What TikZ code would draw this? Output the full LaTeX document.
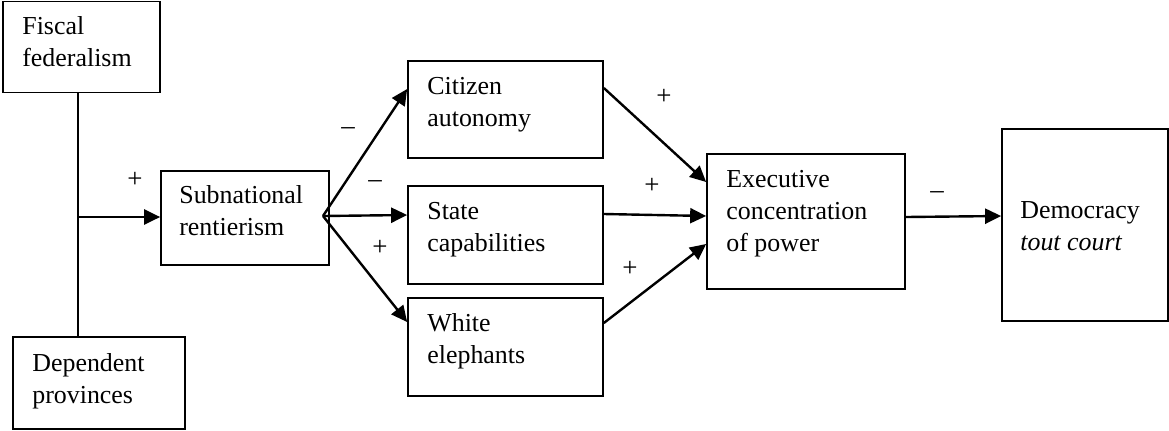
\documentclass[tikz,border=0pt]{standalone}
\usepackage{fontspec}
\setmainfont{Liberation Serif}
\usetikzlibrary{arrows.meta,calc}
\begin{document}
\begin{tikzpicture}[x=1bp,y=-1bp,
  box/.style={draw,line width=1.7bp,inner sep=0pt,rectangle},
  txt/.style={anchor=north west,inner sep=0pt,align=left,font=\fontsize{26}{32}\selectfont},
  sgn/.style={anchor=base,inner sep=0pt,font=\fontsize{27}{30}\selectfont},
  arr/.style={line width=2.4bp,-{Triangle[length=16bp,width=15bp]}},
  ln/.style={line width=2.4bp}]
\useasboundingbox (0,0) rectangle (1169,430);
% boxes
\node[box,minimum width=157bp,minimum height=91bp] (fis) at (81.5,47) {};
\node[box,minimum width=172bp,minimum height=92bp] (dep) at (99,383) {};
\node[box,minimum width=168bp,minimum height=94bp] (sub) at (245,218) {};
\node[box,minimum width=195bp,minimum height=97bp] (cit) at (505.5,109.5) {};
\node[box,minimum width=195bp,minimum height=98bp] (sta) at (505.5,235) {};
\node[box,minimum width=195bp,minimum height=98bp] (whi) at (505.5,347) {};
\node[box,minimum width=198bp,minimum height=135bp] (exe) at (806,221.5) {};
\node[box,minimum width=166bp,minimum height=192bp] (dem) at (1085,225) {};
% texts
\node[txt] (tfis) at ($(fis.north west)+(20,11.6)$) {\strut Fiscal\\federalism};
\node[txt] (tdep) at ($(dep.north west)+(20,12.6)$) {\strut Dependent\\provinces};
\node[txt] (tsub) at ($(sub.north west)+(19,10.6)$) {\strut Subnational\\rentierism};
\node[txt] (tcit) at ($(cit.north west)+(20,11.6)$) {\strut Citizen\\autonomy};
\node[txt] (tsta) at ($(sta.north west)+(20,11.6)$) {\strut State\\capabilities};
\node[txt] (twhi) at ($(whi.north west)+(20,11.6)$) {\strut White\\elephants};
\node[txt] (texe) at ($(exe.north west)+(20,11.6)$) {\strut Executive\\concentration\\of power};
\node[txt] (tdem) at ($(dem.north west)+(19,67.6)$) {\strut Democracy\\\textit{tout court}};
% junctions
\coordinate (j) at (78,217);
\coordinate (br) at (323,216);
% connectors
\draw[ln] (fis.south -| j) -- (dep.north -| j);
\draw[arr] (j) -- (sub.west |- j);
\draw[arr] (br) -- ($(cit.west)+(0,-20.5)$);
\draw[arr] (br) -- ($(sta.west)+(0,-20)$);
\draw[arr] (br) -- ($(whi.west)+(0,-25)$);
\draw[arr] ($(cit.east)+(0,-21.5)$) -- ($(exe.west)+(0,-39.5)$);
\draw[arr] ($(sta.east)+(0,-21)$) -- ($(exe.west)+(0,-5.5)$);
\draw[arr] ($(whi.east)+(0,-24)$) -- ($(exe.west)+(0,22.5)$);
\draw[arr] ($(exe.east)+(0,-4.5)$) -- ($(dem.west)+(0,-9)$);
% signs
\node[sgn] (s1) at (135,187) {+};
\node[sgn] (s2) at (348,134) {–};
\node[sgn] (s3) at (375,187) {–};
\node[sgn] (s4) at (380,255) {+};
\node[sgn] (s5) at (664,104) {+};
\node[sgn] (s6) at (652,193) {+};
\node[sgn] (s7) at (630,276) {+};
\node[sgn] (s8) at (937,198) {–};
\end{tikzpicture}
\end{document}
